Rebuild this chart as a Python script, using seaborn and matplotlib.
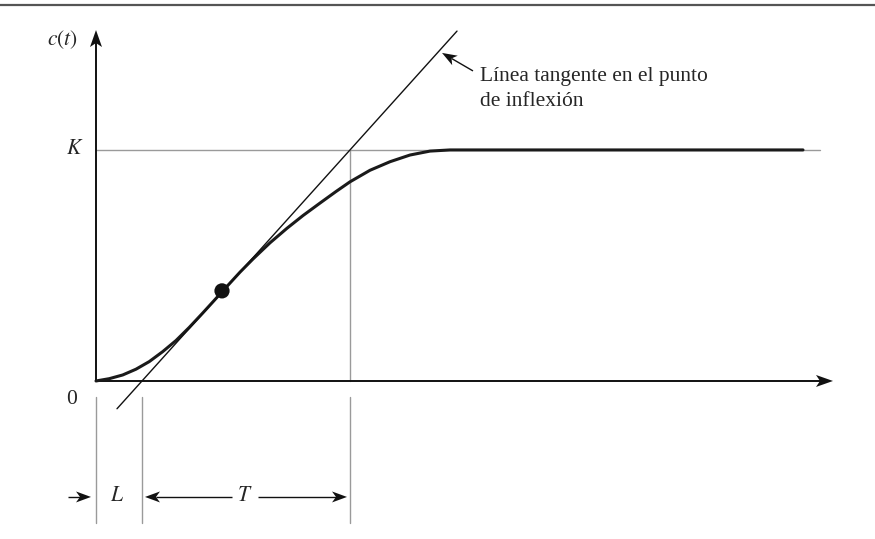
import numpy as np
import pandas as pd
import matplotlib
matplotlib.use("Agg")
import matplotlib.pyplot as plt
from matplotlib.patches import Polygon
import seaborn as sns

# S-shaped step response (K = 1)
t_curve = [0.0, 0.133, 0.267, 0.40, 0.533, 0.667, 0.80, 0.933, 1.067, 1.183,
           1.26, 1.44, 1.57, 1.74, 1.91, 2.07, 2.24, 2.40, 2.54, 2.74, 2.94,
           3.14, 3.34, 3.54, 7.07]
c_curve = [0.0, 0.010, 0.026, 0.051, 0.084, 0.127, 0.175, 0.232, 0.294, 0.349,
           0.386, 0.471, 0.528, 0.598, 0.661, 0.716, 0.770, 0.820, 0.862, 0.912,
           0.949, 0.978, 0.995, 1.0, 1.0]

# inflection point and tangent
t_inf, c_inf = 1.26, 0.39
L = 0.46
T = 2.08
K = 1.0
t_tan = [0.21, 3.61]
slope = K / T
c_tan = [slope * (t - L) for t in t_tan]

sns.set_theme(style="white")
plt.rcParams["font.family"] = ["Liberation Serif", "DejaVu Serif"]
plt.rcParams["mathtext.fontset"] = "stix"

fig = plt.figure(figsize=(8.75, 5.39), dpi=100)
ax = fig.add_axes([0, 0, 1, 1])
ax.set_xlim(-0.96, 7.79)
ax.set_ylim(-0.684, 1.649)
ax.axis("off")

# data units per pixel
PX, PY = 0.01, 1 / 231


def arrow(x0, y0, x1, y1, lw=1.0, hl=15, hw=5.5, notch=4):
    # line from (x0, y0) to tip (x1, y1) with a stealth head
    dx, dy = (x1 - x0) / PX, (y1 - y0) / PY
    n = np.hypot(dx, dy)
    ux, uy = dx / n, dy / n
    vx, vy = -uy, ux
    base_x, base_y = x1 - ux * hl * PX, y1 - uy * hl * PY
    ax.plot([x0, x1 - ux * (hl - notch) * PX], [y0, y1 - uy * (hl - notch) * PY],
            color="#111111", lw=lw, solid_capstyle="butt")
    pts = [(x1, y1),
           (base_x + vx * hw * PX, base_y + vy * hw * PY),
           (x1 - ux * (hl - notch) * PX, y1 - uy * (hl - notch) * PY),
           (base_x - vx * hw * PX, base_y - vy * hw * PY)]
    ax.add_patch(Polygon(pts, closed=True, color="#111111", lw=0))


gray = "#9a9a9a"

# top rule
ax.plot([-0.96, 7.79], [1.628, 1.628], color="#555555", lw=1.6, solid_capstyle="butt")

# K level and T guide
ax.plot([0, 7.24], [K, K], color=gray, lw=1.0)
ax.plot([L + T, L + T], [0, K], color=gray, lw=1.0)

# lower guide verticals
for tv in [0, L, L + T]:
    ax.plot([tv, tv], [-0.069, -0.615], color=gray, lw=1.0)

# axes with arrows
arrow(0, 0, 0, 1.519, lw=1.4, hl=17, hw=6, notch=4)
arrow(0, 0, 7.37, 0, lw=1.4, hl=17, hw=6, notch=4)

# curve, tangent, inflection point
df = pd.DataFrame({"t": t_curve, "c": c_curve})
sns.lineplot(data=df, x="t", y="c", color="#1a1a1a", lw=2.2, ax=ax, sort=False,
             solid_joinstyle="round")
sns.lineplot(x=t_tan, y=c_tan, color="#111111", lw=1.0, ax=ax)
sns.scatterplot(x=[t_inf], y=[c_inf], color="#111111", s=120, ax=ax, zorder=5,
                edgecolor="none")
ax.axis("off")

# labels
fs = 15.5
ax.text(-0.34, 1.476, r"$c(t)$", fontsize=fs, ha="center", va="center")
ax.text(-0.21, K, r"$K$", fontsize=fs, ha="center", va="center")
ax.text(-0.24, -0.082, "0", fontsize=fs, ha="center", va="center")

# annotation of tangent line
arrow(3.77, 1.342, 3.46, 1.42, lw=1.0, hl=15, hw=5.5, notch=4)
ax.text(3.84, 1.265, "Línea tangente en el punto\nde inflexión", fontsize=fs,
        ha="left", va="center", linespacing=1.45)

# L and T dimension arrows
yd = -0.502
arrow(-0.28, yd, -0.05, yd)
ax.text(0.21, yd, r"$L$", fontsize=fs, ha="center", va="center")
arrow(1.36, yd, 0.49, yd)
ax.text(1.49, yd, r"$T$", fontsize=fs, ha="center", va="center")
arrow(1.62, yd, 2.51, yd)

fig.savefig("out.png", dpi=100)
